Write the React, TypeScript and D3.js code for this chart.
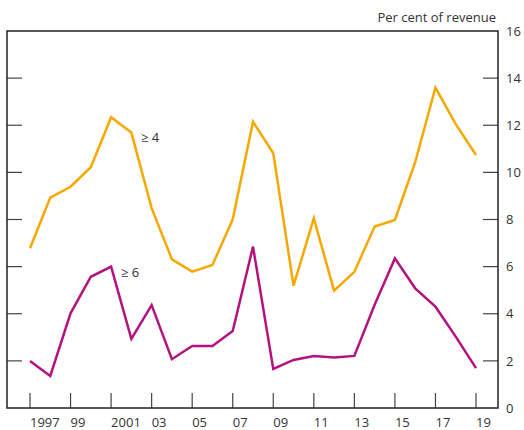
import React, { useRef, useEffect } from "react";
import * as d3 from "d3";

const years = d3.range(1997, 2020);
const tickYears = [1997, 1999, 2001, 2003, 2005, 2007, 2009, 2011, 2013, 2015, 2017, 2019];
const tickLabels = ["1997", "99", "2001", "03", "05", "07", "09", "11", "13", "15", "17", "19"];
const yTicks = [0, 2, 4, 6, 8, 10, 12, 14, 16];

// share of firms with interest cost above 4 / 6 per cent of revenue
const above4 = [6.78, 8.93, 9.39, 10.22, 12.34, 11.69, 8.48, 6.31, 5.79, 6.07, 8.01, 12.15, 10.81, 5.19, 8.05, 4.98, 5.78, 7.7, 7.98, 10.43, 13.6, 12.05, 10.74];
const above6 = [1.99, 1.36, 4.02, 5.57, 6.0, 2.93, 4.37, 2.07, 2.63, 2.63, 3.27, 6.85, 1.66, 2.04, 2.21, 2.14, 2.21, 4.38, 6.35, 5.08, 4.3, 3.03, 1.69];

const W = 524;
const H = 430;
const left = 7;
const right = 498;
const top = 31;
const bottom = 408;
const font = "'Open Sans', sans-serif";
const textColor = "#333";

function Chart() {
  const ref = useRef<SVGSVGElement>(null);

  useEffect(() => {
    const svg = d3.select(ref.current);
    svg.selectAll("*").remove();

    const x = d3.scaleLinear().domain([1997, 2019]).range([30, 476]);
    const y = d3.scaleLinear().domain([0, 16]).range([bottom, top]);

    const line = d3
      .line<number>()
      .x((d, i) => x(years[i]))
      .y((d) => y(d));

    // ticks inside the frame
    const inner = yTicks.filter((t) => t > 0 && t < 16);
    svg
      .append("g")
      .selectAll("line.l")
      .data(inner)
      .join("line")
      .attr("x1", left)
      .attr("x2", left + 15)
      .attr("y1", (d) => y(d))
      .attr("y2", (d) => y(d))
      .attr("stroke", "#444")
      .attr("stroke-width", 1.2);
    svg
      .append("g")
      .selectAll("line.r")
      .data(inner)
      .join("line")
      .attr("x1", right - 15)
      .attr("x2", right)
      .attr("y1", (d) => y(d))
      .attr("y2", (d) => y(d))
      .attr("stroke", "#444")
      .attr("stroke-width", 1.2);
    svg
      .append("g")
      .selectAll("line")
      .data(tickYears)
      .join("line")
      .attr("x1", (d) => x(d))
      .attr("x2", (d) => x(d))
      .attr("y1", bottom - 15)
      .attr("y2", bottom)
      .attr("stroke", "#444")
      .attr("stroke-width", 1.2);

    svg
      .append("rect")
      .attr("x", left)
      .attr("y", top)
      .attr("width", right - left)
      .attr("height", bottom - top)
      .attr("fill", "none")
      .attr("stroke", "#222")
      .attr("stroke-width", 1.5);

    svg
      .append("path")
      .datum(above4)
      .attr("d", line)
      .style("fill", "none")
      .style("stroke", "#f6a800")
      .style("stroke-width", 2.5)
      .style("stroke-linejoin", "miter");

    svg
      .append("path")
      .datum(above6)
      .attr("d", line)
      .style("fill", "none")
      .style("stroke", "#b3137f")
      .style("stroke-width", 2.5)
      .style("stroke-linejoin", "miter");

    const txt = svg
      .append("g")
      .attr("font-family", font)
      .attr("font-size", 13)
      .attr("fill", textColor);

    txt
      .selectAll("text.y")
      .data(yTicks)
      .join("text")
      .attr("x", 506)
      .attr("y", (d) => y(d))
      .attr("dy", "0.36em")
      .text((d) => d);

    txt
      .selectAll("text.x")
      .data(tickYears)
      .join("text")
      .attr("x", (d) => x(d))
      .attr("y", 427)
      .text((d, i) => tickLabels[i]);

    txt
      .append("text")
      .attr("x", 496)
      .attr("y", 22)
      .attr("text-anchor", "end")
      .text("Per cent of revenue");

    txt.append("text").attr("x", 141).attr("y", 142).text("≥ 4");
    txt.append("text").attr("x", 121).attr("y", 277).text("≥ 6");
  }, []);

  return (
    <svg
      ref={ref}
      width={W}
      height={H}
      style={{ position: "absolute", left: 0, top: 0, background: "#fff" }}
    ></svg>
  );
}

export default function App() {
  return <Chart />;
}
